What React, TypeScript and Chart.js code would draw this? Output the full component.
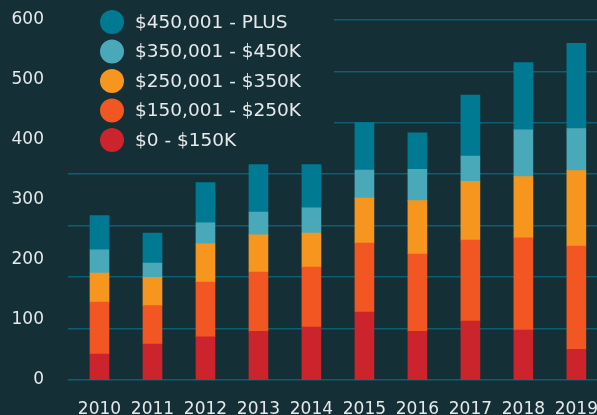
import React, { useEffect, useRef } from "react";
import { Chart, registerables } from "chart.js";

Chart.register(...registerables);

const years = ["2010", "2011", "2012", "2013", "2014", "2015", "2016", "2017", "2018", "2019"];
const band0to150 = [43, 60, 72, 81, 88, 113, 81, 98, 83, 51];
const band150to250 = [87, 64, 91, 99, 100, 115, 129, 135, 154, 172];
const band250to350 = [48, 47, 64, 62, 57, 75, 89, 98, 102, 126];
const band350to450 = [39, 24, 35, 38, 42, 47, 52, 42, 78, 70];
const band450plus = [57, 50, 67, 79, 72, 79, 61, 102, 112, 142];
const yTickMax = 600;
const gridMax = 700;

const BG = "#142f36";
const TEXT = "#e6e9ea";
const GRID = "#0b5f72";
const FONT = "'DejaVu Sans', sans-serif";

export default function App() {
  const ref = useRef<HTMLCanvasElement | null>(null);
  useEffect(() => {
    if (!ref.current) return;
    const legendPlugin = {
      id: "customLegend",
      afterDraw(chart: any) {
        const ctx = chart.ctx;
        ctx.save();
        ctx.fillStyle = BG;
        ctx.fillRect(50, 0, 284, 150);
        const ds = chart.data.datasets.slice().reverse();
        ctx.font = `18.5px ${FONT}`;
        ctx.textBaseline = "middle";
        ctx.textAlign = "left";
        ds.forEach((d: any, i: number) => {
          const cy = 22 + i * 29.5;
          ctx.beginPath();
          ctx.arc(112, cy, 12, 0, Math.PI * 2);
          ctx.fillStyle = d.backgroundColor;
          ctx.fill();
          ctx.fillStyle = TEXT;
          ctx.fillText(d.label, 135, cy + 1);
        });
        ctx.restore();
      },
    };
    const chart = new Chart(ref.current, {
      type: "bar",
      data: {
        labels: years,
        datasets: [
          { label: "$0 - $150K", data: band0to150, backgroundColor: "#cc242c" },
          { label: "$150,001 - $250K", data: band150to250, backgroundColor: "#f15623" },
          { label: "$250,001 - $350K", data: band250to350, backgroundColor: "#f7961f" },
          { label: "$350,001 - $450K", data: band350to450, backgroundColor: "#4aa9b9" },
          { label: "$450,001 - PLUS", data: band450plus, backgroundColor: "#007a93" },
        ],
      },
      options: {
        animation: false,
        responsive: false,
        maintainAspectRatio: false,
        layout: { padding: { left: 0, right: 0, top: 20, bottom: 0 } },
        plugins: { legend: { display: false }, tooltip: { enabled: false } },
        datasets: { bar: { barThickness: 19, borderWidth: 0 } },
        scales: {
          x: {
            stacked: true,
            grid: { display: false },
            border: { display: false },
            ticks: { color: TEXT, font: { family: FONT, size: 17 }, padding: 11, maxRotation: 0 },
            afterFit: (s: any) => { s.height = 35; },
          },
          y: {
            stacked: true,
            position: "left",
            weight: 1,
            min: 0,
            max: yTickMax,
            grid: { display: false, drawTicks: false },
            border: { display: false },
            ticks: { stepSize: 100, color: TEXT, font: { family: FONT, size: 17 }, padding: 4 },
            afterFit: (s: any) => { s.width = 48; },
          },
          y2: {
            position: "left",
            weight: 0,
            min: 0,
            max: gridMax,
            grid: { color: GRID, lineWidth: 1.6, drawTicks: true, tickLength: 5 },
            border: { display: false },
            ticks: { display: false, stepSize: 100, padding: 0 },
            afterFit: (s: any) => { s.width = 25; },
          },
        },
      },
      plugins: [legendPlugin],
    });
    return () => chart.destroy();
  }, []);
  return (
    <div style={{ position: "fixed", left: 0, top: 0, width: 597, height: 415, overflow: "hidden", background: BG }}>
      <canvas ref={ref} width={609} height={415} style={{ display: "block", width: 609, height: 415 }} />
    </div>
  );
}
